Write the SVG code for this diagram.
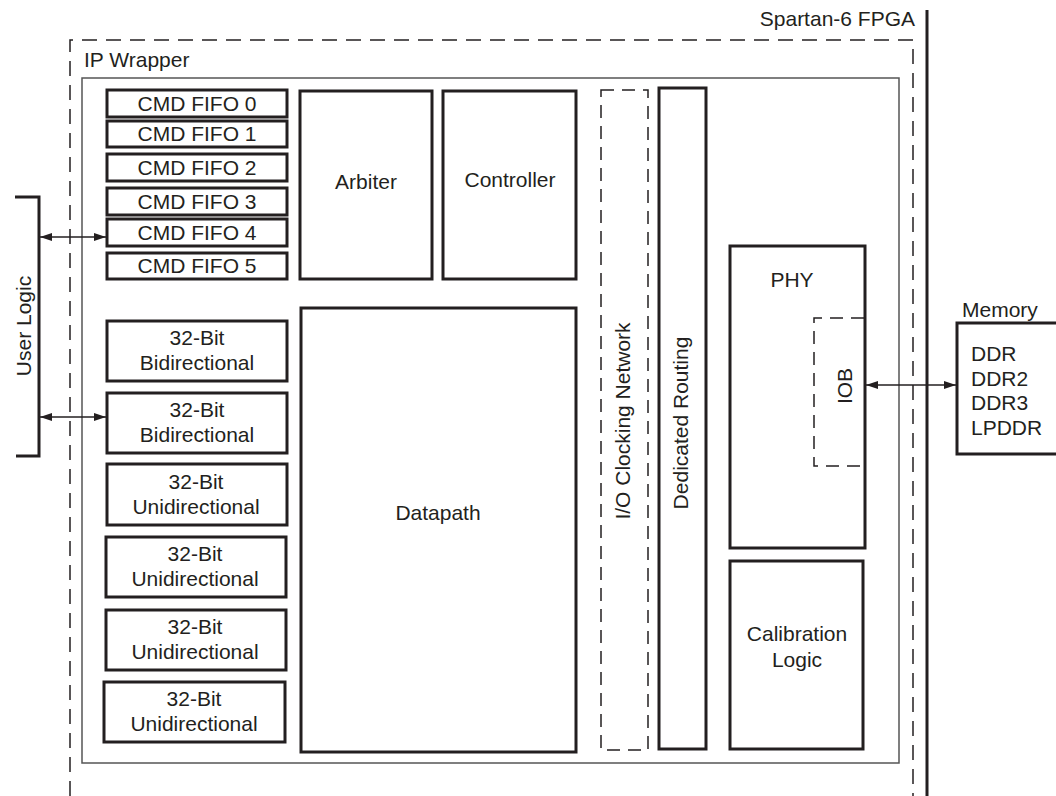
<svg xmlns="http://www.w3.org/2000/svg" width="1056" height="796" viewBox="0 0 1056 796">
<defs>
<marker id="ah" viewBox="0 0 12 8" refX="12" refY="4" markerWidth="12" markerHeight="8" markerUnits="userSpaceOnUse" orient="auto-start-reverse">
<path d="M0,0 L12,4 L0,8 Z" fill="#231f20"/>
</marker>
<style>
text{font-family:"Liberation Sans",Arial,sans-serif;font-size:21px;fill:#231f20}
.c{text-anchor:middle}
.box{fill:none;stroke:#231f20;stroke-width:3}
.thin{fill:none;stroke:#555;stroke-width:1.5}
.dash{fill:none;stroke:#231f20;stroke-width:1.5;stroke-dasharray:15 9}
.dash2{fill:none;stroke:#231f20;stroke-width:1.5;stroke-dasharray:13 8}
.conn{fill:none;stroke:#231f20;stroke-width:1.3}
</style>
</defs>
<rect width="1056" height="796" fill="#fff"/>

<g id="fpga">
<line x1="927" y1="10" x2="927" y2="796" stroke="#231f20" stroke-width="3"/>
<text x="915" y="26" text-anchor="end">Spartan-6 FPGA</text>
</g>

<g id="ip-wrapper">
<path class="dash" d="M70,796 V40 H913 V796"/>
<text x="84" y="67">IP Wrapper</text>
<rect class="thin" x="82" y="78" width="817" height="685"/>
</g>

<g id="user-logic">
<path d="M15,197 H39 V456 H16" fill="none" stroke="#231f20" stroke-width="3"/>
<text class="c" transform="translate(31,326) rotate(-90)">User Logic</text>
</g>

<g id="cmd-fifo-0"><rect class="box" x="107" y="90" width="180" height="27"/><text class="c" x="197" y="111">CMD FIFO 0</text></g>
<g id="cmd-fifo-1"><rect class="box" x="107" y="121" width="180" height="26"/><text class="c" x="197" y="141">CMD FIFO 1</text></g>
<g id="cmd-fifo-2"><rect class="box" x="107" y="154" width="180" height="27"/><text class="c" x="197" y="175">CMD FIFO 2</text></g>
<g id="cmd-fifo-3"><rect class="box" x="107" y="188" width="180" height="27"/><text class="c" x="197" y="209">CMD FIFO 3</text></g>
<g id="cmd-fifo-4"><rect class="box" x="107" y="219" width="180" height="27"/><text class="c" x="197" y="240">CMD FIFO 4</text></g>
<g id="cmd-fifo-5"><rect class="box" x="107" y="253" width="180" height="26"/><text class="c" x="197" y="273">CMD FIFO 5</text></g>

<g id="port-0"><rect class="box" x="107" y="321" width="180" height="60"/><text class="c" x="197" y="345">32-Bit</text><text class="c" x="197" y="370">Bidirectional</text></g>
<g id="port-1"><rect class="box" x="107" y="393" width="180" height="60"/><text class="c" x="197" y="417">32-Bit</text><text class="c" x="197" y="442">Bidirectional</text></g>
<g id="port-2"><rect class="box" x="107" y="464" width="180" height="61"/><text class="c" x="196" y="489">32-Bit</text><text class="c" x="196" y="514">Unidirectional</text></g>
<g id="port-3"><rect class="box" x="106" y="537" width="180" height="60"/><text class="c" x="195" y="561">32-Bit</text><text class="c" x="195" y="586">Unidirectional</text></g>
<g id="port-4"><rect class="box" x="106" y="610" width="180" height="60"/><text class="c" x="195" y="634">32-Bit</text><text class="c" x="195" y="659">Unidirectional</text></g>
<g id="port-5"><rect class="box" x="104" y="682" width="181" height="60"/><text class="c" x="194" y="706">32-Bit</text><text class="c" x="194" y="731">Unidirectional</text></g>

<g id="arbiter"><rect class="box" x="300" y="91" width="132" height="188"/><text class="c" x="366" y="189">Arbiter</text></g>
<g id="controller"><rect class="box" x="443" y="91" width="133" height="188"/><text class="c" x="510" y="187">Controller</text></g>
<g id="datapath"><rect class="box" x="301" y="308" width="275" height="444"/><text class="c" x="438" y="520">Datapath</text></g>

<g id="io-clocking"><rect class="dash2" x="601" y="90" width="47" height="660"/><text class="c" transform="translate(630,421) rotate(-90)">I/O Clocking Network</text></g>
<g id="dedicated-routing"><rect class="box" x="659" y="88" width="47" height="661"/><text class="c" transform="translate(688,423) rotate(-90)">Dedicated Routing</text></g>

<g id="phy"><rect class="box" x="730" y="246" width="135" height="302"/><text class="c" x="792" y="287">PHY</text></g>
<g id="iob"><path class="dash2" d="M864,318 H814 V466 H862"/><text class="c" transform="translate(852,386) rotate(-90)">IOB</text></g>
<g id="calibration"><rect class="box" x="730" y="561" width="133" height="188"/><text class="c" x="797" y="641">Calibration</text><text class="c" x="797" y="667">Logic</text></g>

<g id="memory">
<path d="M1056,323 H957 V454 H1056" fill="none" stroke="#231f20" stroke-width="3"/>
<text x="962" y="317">Memory</text>
<text x="971" y="361">DDR</text>
<text x="971" y="386">DDR2</text>
<text x="971" y="410">DDR3</text>
<text x="971" y="435">LPDDR</text>
</g>

<g id="connectors">
<line class="conn" x1="40" y1="237" x2="106" y2="237" marker-start="url(#ah)" marker-end="url(#ah)"/>
<line class="conn" x1="40" y1="417" x2="106" y2="417" marker-start="url(#ah)" marker-end="url(#ah)"/>
<line class="conn" x1="866" y1="385" x2="956" y2="385" marker-start="url(#ah)" marker-end="url(#ah)"/>
</g>
</svg>
